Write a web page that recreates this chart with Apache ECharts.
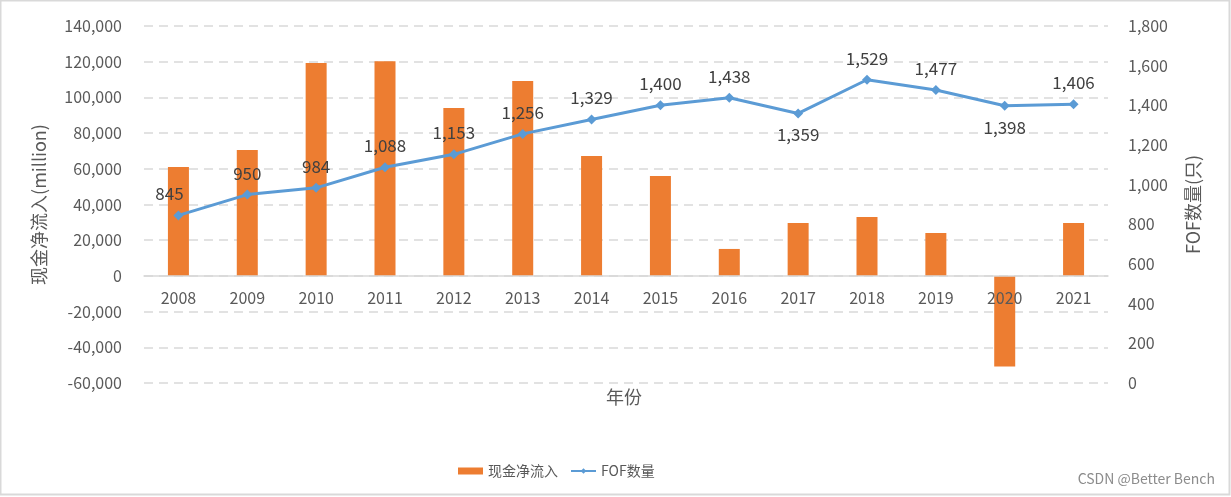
<!DOCTYPE html>
<html><head><meta charset="utf-8">
<script src="https://cdn.jsdelivr.net/npm/echarts@6/dist/echarts.min.js"></script>
<style>html,body{margin:0;padding:0;background:#fff}#c{width:1231px;height:497px}</style>
</head><body><div id="c"></div>
<script>
const years = ['2008','2009','2010','2011','2012','2013','2014','2015','2016','2017','2018','2019','2020','2021'];
const netInflow = [61000, 70600, 119300, 120300, 94100, 109200, 67200, 56000, 15100, 29700, 33000, 24100, -50800, 29700];
const fofCount = [845, 950, 984, 1088, 1153, 1256, 1329, 1400, 1438, 1359, 1529, 1477, 1398, 1406];
const labelBelow = ['2017', '2020'];
const leftMin = -60000, leftMax = 140000;

const font = '"Noto Sans CJK SC", "Noto Sans", sans-serif';
const fmt = v => v.toLocaleString('en-US');
const gridTop = 26, gridBottom = 114, H = 497;
const gridH = H - gridTop - gridBottom;
const zeroOffset = -((0 - leftMin) / (leftMax - leftMin)) * gridH;

const chart = echarts.init(document.getElementById('c'), null, {renderer: 'canvas'});
chart.setOption({
  animation: false,
  textStyle: {fontFamily: font},
  grid: {left: 144, right: 123, top: gridTop, bottom: gridBottom, containLabel: false},
  legend: {
    top: 459, left: 453, itemGap: 12,
    itemWidth: 25, itemHeight: 7,
    textStyle: {fontSize: 14, color: '#595959', fontFamily: font},
    data: [{name: '现金净流入', icon: 'rect'}, {name: 'FOF数量'}]
  },
  xAxis: {
    type: 'category', data: years, position: 'bottom', offset: zeroOffset, z: 5,
    axisLine: {onZero: false, lineStyle: {color: '#d9d9d9', width: 1.5}},
    axisTick: {show: false},
    axisLabel: {fontSize: 16, color: '#595959', margin: 14}
  },
  yAxis: [{
    type: 'value', min: leftMin, max: leftMax, interval: 20000,
    name: '现金净流入(million)', nameLocation: 'middle', nameGap: 96,
    nameTextStyle: {fontSize: 18, color: '#595959'},
    axisLine: {show: false}, axisTick: {show: false},
    axisLabel: {fontSize: 16, color: '#595959', margin: 22, formatter: fmt},
    splitLine: {lineStyle: {color: '#d9d9d9', type: [9, 6], width: 1.5}}
  }, {
    type: 'value', min: 0, max: 1800, interval: 200,
    name: 'FOF数量(只)', nameLocation: 'middle', nameGap: 76,
    nameTextStyle: {fontSize: 18, color: '#595959'},
    axisLine: {show: false}, axisTick: {show: false},
    axisLabel: {fontSize: 16, color: '#595959', margin: 20, formatter: fmt},
    splitLine: {show: false}
  }],
  series: [{
    name: '现金净流入', type: 'bar', data: netInflow, barWidth: 21,
    itemStyle: {color: '#ED7D31'}
  }, {
    name: 'FOF数量', type: 'line', yAxisIndex: 1, z: 6,
    data: fofCount.map((v, i) => ({
      value: v,
      label: {
        position: labelBelow.includes(years[i]) ? 'bottom' : 'top',
        offset: i === 0 ? [-9, 0] : [0, 0]
      }
    })),
    symbol: 'diamond', symbolSize: 10,
    lineStyle: {color: '#5B9BD5', width: 3},
    itemStyle: {color: '#5B9BD5'},
    label: {show: true, fontSize: 17, color: '#404040', distance: 8, formatter: p => fmt(p.value)}
  }],
  graphic: [
    {type: 'rect', shape: {x: 0.5, y: 0.5, width: 1229, height: 494}, style: {fill: 'none', stroke: '#d9d9d9', lineWidth: 2}, silent: true},
    {type: 'text', left: 606, top: 388, style: {text: '年份', fontSize: 18, fill: '#595959', fontFamily: font}},
    {type: 'text', right: 16, top: 472, style: {text: 'CSDN @Better Bench', fontSize: 14, fill: '#8c8c8c', fontFamily: font}}
  ]
});
</script></body></html>
